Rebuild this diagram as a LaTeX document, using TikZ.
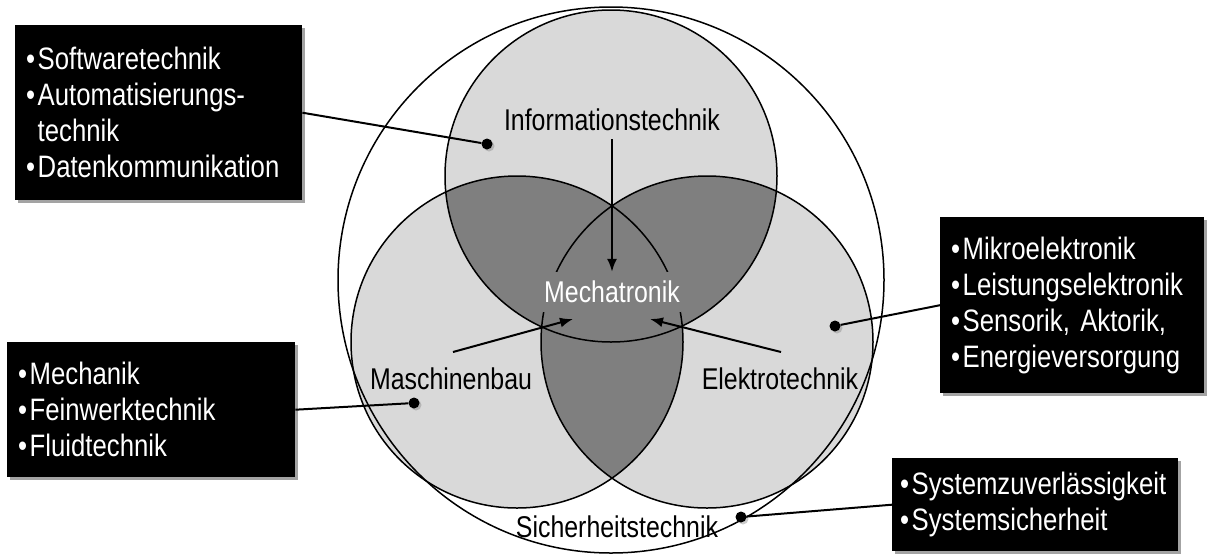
\documentclass[tikz,border=0pt]{standalone}
\usepackage{fontspec}
\setmainfont[FakeStretch=0.83]{Liberation Sans}
\usepackage{tikz}
\usetikzlibrary{arrows.meta, shadows}

\definecolor{lightfill}{HTML}{D9D9D9}
\definecolor{darkfill}{HTML}{7F7F7F}
\newcommand{\bul}{•\hspace{2.5pt}}

\begin{document}
\begin{tikzpicture}[
    x=1pt, y=-1pt,
    field/.style={draw=black, line width=1.5pt},
    fieldname/.style={font=\fontsize{30}{35}\selectfont, inner sep=4pt},
    infobox/.style={
        rectangle,
        fill=black,
        text=white,
        align=left,
        anchor=north west,
        inner xsep=11pt,
        font=\fontsize{31}{36}\selectfont,
        drop shadow={shadow xshift=3pt, shadow yshift=-3pt, fill=black!60, opacity=0.6}
    },
    dot/.style={circle, fill=black, inner sep=0pt, minimum size=11pt,
        drop shadow={shadow xshift=2pt, shadow yshift=-2pt, opacity=0.4}},
    arrow/.style={-{Latex[length=13pt, width=10pt]}, line width=2pt},
    link/.style={line width=2pt}
]

\useasboundingbox (0,0) rectangle (1224,558);

\coordinate (cO) at (611,280);
\coordinate (cI) at (611,176);
\coordinate (cM) at (517,342);
\coordinate (cE) at (707,342);

\fill[white] (cO) circle[radius=273pt];
\fill[lightfill] (cI) circle[radius=166pt];
\fill[lightfill] (cM) circle[radius=166pt];
\fill[lightfill] (cE) circle[radius=166pt];
\begin{scope}
    \clip (cI) circle[radius=166pt];
    \fill[darkfill] (cM) circle[radius=166pt];
    \fill[darkfill] (cE) circle[radius=166pt];
\end{scope}
\begin{scope}
    \clip (cM) circle[radius=166pt];
    \fill[darkfill] (cE) circle[radius=166pt];
\end{scope}

\draw[field] (cO) circle[radius=273pt];
\draw[field] (cI) circle[radius=166pt];
\draw[field] (cM) circle[radius=166pt];
\draw[field] (cE) circle[radius=166pt];

\node[fieldname] (info) at (612,120) {Informationstechnik};
\node[fieldname] (masch) at (451,379) {Maschinenbau};
\node[fieldname] (elek) at (780,379) {Elektrotechnik};
\node[fieldname] (sich) at (617,527) {Sicherheitstechnik};
\node[fieldname, fill=darkfill, text=white, inner xsep=1pt, minimum height=40pt] (mecha) at (612,292) {Mechatronik};

\coordinate (tailL) at (453,352);
\coordinate (tipL) at (573,319);
\coordinate (tailR) at (781,352);
\coordinate (tipR) at (650,319);

\draw[arrow, shorten <=4pt] (info.south) -- (mecha.north);
\draw[arrow] (tailL) -- (tipL);
\draw[arrow] (tailR) -- (tipR);

\node[infobox, minimum width=287pt, minimum height=175pt, text width=265pt] (soft) at (15,25)
    {\bul Softwaretechnik\\\bul Automatisierungs-\\\phantom{\bul}technik\\\bul Datenkommunikation};
\node[infobox, minimum width=264pt, minimum height=176pt, text width=242pt] (micro) at (940,217)
    {\bul Mikroelektronik\\\bul Leistungselektronik\\\bul Sensorik, Aktorik,\\\bul Energieversorgung};
\node[infobox, minimum width=288pt, minimum height=135pt, text width=266pt, inner xsep=10pt] (mech) at (7,342)
    {\bul Mechanik\\\bul Feinwerktechnik\\\bul Fluidtechnik};
\node[infobox, minimum width=286pt, minimum height=93pt, text width=270pt, inner xsep=8pt] (zuv) at (892,458)
    {\bul Systemzuverlässigkeit\\\bul Systemsicherheit};

\node[dot] (dotI) at (487,144) {};
\node[dot] (dotM) at (414,403) {};
\node[dot] (dotE) at (835,326) {};
\node[dot] (dotS) at (741,517) {};

\draw[link] (soft.east) -- (dotI);
\draw[link] (mech.east) -- (dotM);
\draw[link] (micro.west) -- (dotE);
\draw[link] (zuv.west) -- (dotS);

\end{tikzpicture}
\end{document}
